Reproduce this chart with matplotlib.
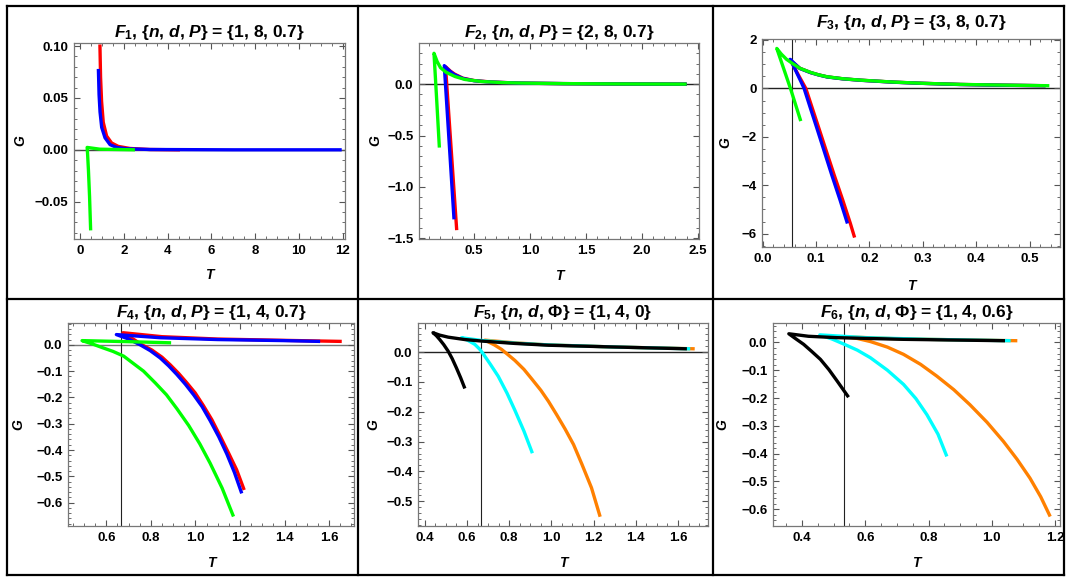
import matplotlib
matplotlib.use("Agg")
import matplotlib.pyplot as plt
from matplotlib.ticker import MultipleLocator, AutoMinorLocator, FuncFormatter

plt.rcParams['font.family'] = ['Liberation Sans', 'DejaVu Sans']
plt.rcParams['font.weight'] = 'bold'
plt.rcParams['mathtext.fontset'] = 'custom'
plt.rcParams['mathtext.it'] = 'Liberation Sans:italic:bold'
plt.rcParams['mathtext.rm'] = 'Liberation Sans:bold'
plt.rcParams['mathtext.bf'] = 'Liberation Sans:bold'

# ---- data (T, G) ----
# F1
f1_red_t = [0.913, 0.943, 0.989, 1.065, 1.218, 1.446, 1.75, 2.283, 3.196, 4.566]
f1_red_g = [0.1016, 0.070, 0.0467, 0.0266, 0.0133, 0.0066, 0.0033, 0.0013, 0.0003, 0.0]
f1_blue_t = [0.843, 0.874, 0.918, 0.994, 1.146, 1.374, 1.674, 2.13, 3.196, 7.0, 11.95]
f1_blue_g = [0.078, 0.0533, 0.0366, 0.0216, 0.0116, 0.005, 0.0023, 0.001, 0.0003, 0.0, 0.0]
f1_green_t = [0.49, 0.44, 0.39, 0.35, 0.33, 0.91, 2.51]
f1_green_g = [-0.0777, -0.045, -0.02, -0.004, 0.0023, 0.0006, 0.0]

# F2
f2_red_t = [0.345, 0.295, 0.245, 0.26, 0.29, 0.33, 0.4, 0.5, 0.65, 0.9, 1.3, 1.8, 2.4]
f2_red_g = [-1.42, -0.625, 0.17, 0.155, 0.125, 0.095, 0.058, 0.035, 0.021, 0.01, 0.005, 0.002, 0.0]
f2_blue_t = [0.321, 0.28, 0.234, 0.25, 0.28, 0.32, 0.4, 0.5, 0.65, 0.9, 1.3, 1.8, 2.4]
f2_blue_g = [-1.315, -0.61, 0.18, 0.16, 0.13, 0.095, 0.055, 0.033, 0.02, 0.01, 0.005, 0.002, 0.0]
f2_green_t = [0.19, 0.166, 0.142, 0.17, 0.2, 0.25, 0.33, 0.42, 0.569, 0.75, 0.927, 1.3, 1.8, 2.40]
f2_green_g = [-0.617, -0.153, 0.30, 0.22, 0.16, 0.115, 0.074, 0.045, 0.0256, 0.015, 0.01, 0.005, 0.002, 0.0]

# F3
f3_red_t = [0.1724, 0.1645, 0.15, 0.1345, 0.119, 0.1057, 0.0935, 0.081, 0.074, 0.067, 0.06, 0.054,
            0.07, 0.09, 0.105, 0.121, 0.15, 0.184, 0.215, 0.246, 0.3, 0.37, 0.45, 0.53]
f3_red_g = [-6.16, -5.58, -4.6, -3.6, -2.56, -1.66, -0.84, 0.0, 0.28, 0.56, 0.85, 1.12,
            0.83, 0.655, 0.56, 0.478, 0.398, 0.338, 0.298, 0.258, 0.21, 0.163, 0.133, 0.11]
f3_blue_t = [0.159, 0.145, 0.13, 0.115, 0.102, 0.09, 0.0778, 0.0715, 0.065, 0.058, 0.0516,
             0.07, 0.09, 0.105, 0.121, 0.15, 0.184, 0.215, 0.246, 0.3, 0.37, 0.45, 0.53]
f3_blue_g = [-5.58, -4.6, -3.6, -2.56, -1.66, -0.84, 0.0, 0.3, 0.6, 0.93, 1.20,
             0.82, 0.65, 0.555, 0.472, 0.395, 0.335, 0.295, 0.255, 0.208, 0.16, 0.13, 0.11]
f3_green_t = [0.0716, 0.053, 0.0267, 0.035, 0.045, 0.056, 0.07, 0.09, 0.105, 0.121, 0.15,
              0.184, 0.215, 0.246, 0.3, 0.37, 0.45, 0.537]
f3_green_g = [-1.35, -0.05, 1.65, 1.42, 1.2, 1.03, 0.83, 0.66, 0.56, 0.48, 0.40,
              0.34, 0.30, 0.26, 0.21, 0.165, 0.135, 0.11]

# F4
f4_red_t = [1.219, 1.185, 1.148, 1.11, 1.074, 1.035, 0.999, 0.96, 0.924, 0.887, 0.850, 0.805,
            0.76, 0.715, 0.675, 0.85, 1.1, 1.4, 1.657]
f4_red_g = [-0.552, -0.475, -0.41, -0.345, -0.285, -0.23, -0.183, -0.143, -0.108, -0.076, -0.047,
            -0.02, 0.0, 0.025, 0.046, 0.031, 0.022, 0.017, 0.013]
f4_blue_t = [1.208, 1.175, 1.141, 1.105, 1.066, 1.03, 0.992, 0.955, 0.917, 0.88, 0.842, 0.797,
             0.752, 0.70, 0.645, 0.842, 1.1, 1.4, 1.56]
f4_blue_g = [-0.565, -0.485, -0.415, -0.35, -0.288, -0.235, -0.19, -0.15, -0.113, -0.08, -0.050,
             -0.022, 0.0, 0.022, 0.039, 0.027, 0.020, 0.016, 0.013]
f4_green_t = [1.171, 1.12, 1.066, 1.02, 0.97, 0.917, 0.87, 0.82, 0.767, 0.72, 0.678, 0.63,
              0.58, 0.535, 0.491, 0.7, 0.891]
f4_green_g = [-0.653, -0.545, -0.45, -0.377, -0.307, -0.243, -0.19, -0.145, -0.100, -0.07, -0.043,
              -0.025, -0.01, 0.004, 0.016, 0.012, 0.0076]

# F5
f5_orange_t = [1.231, 1.19, 1.144, 1.105, 1.065, 1.025, 0.986, 0.95, 0.907, 0.87, 0.827, 0.80,
               0.764, 0.73, 0.685, 0.827, 0.986, 1.302, 1.679]
f5_orange_g = [-0.552, -0.455, -0.375, -0.31, -0.258, -0.21, -0.165, -0.128, -0.090, -0.058, -0.028,
               -0.012, 0.009, 0.024, 0.040, 0.031, 0.024, 0.017, 0.011]
f5_cyan_t = [0.910, 0.87, 0.827, 0.79, 0.748, 0.71, 0.677, 0.66, 0.637, 0.605, 0.574,
             0.669, 0.827, 0.986, 1.302, 1.658]
f5_cyan_g = [-0.339, -0.265, -0.195, -0.138, -0.081, -0.04, -0.006, 0.01, 0.026, 0.039, 0.048,
             0.039, 0.030, 0.024, 0.017, 0.011]
f5_black_t = [0.590, 0.57, 0.55, 0.53, 0.511, 0.49, 0.471, 0.455, 0.439, 0.47, 0.511, 0.59,
              0.669, 0.827, 0.986, 1.302, 1.642]
f5_black_g = [-0.122, -0.086, -0.053, -0.022, 0.003, 0.025, 0.042, 0.055, 0.065, 0.057, 0.050, 0.042,
              0.037, 0.029, 0.023, 0.017, 0.011]

# F6
f6_orange_t = [1.185, 1.155, 1.121, 1.08, 1.037, 0.985, 0.931, 0.88, 0.826, 0.775, 0.721, 0.67,
               0.616, 0.575, 0.537, 0.7, 0.9, 1.081]
f6_orange_g = [-0.626, -0.555, -0.488, -0.42, -0.356, -0.287, -0.224, -0.17, -0.121, -0.079, -0.043,
               -0.017, 0.003, 0.014, 0.02, 0.013, 0.009, 0.006]
f6_cyan_t = [0.858, 0.83, 0.795, 0.76, 0.721, 0.67, 0.616, 0.575, 0.534, 0.495, 0.456,
             0.6, 0.8, 1.06]
f6_cyan_g = [-0.41, -0.33, -0.26, -0.202, -0.151, -0.1, -0.055, -0.028, -0.007, 0.012, 0.027,
             0.017, 0.011, 0.006]
f6_black_t = [0.547, 0.511, 0.485, 0.458, 0.43, 0.405, 0.38, 0.358, 0.42, 0.511, 0.721, 1.042]
f6_black_g = [-0.197, -0.139, -0.098, -0.061, -0.032, -0.007, 0.013, 0.031, 0.022, 0.017, 0.011, 0.006]

titles = [r"$F_1$, {$n$, $d$, $P$} = {1, 8, 0.7}",
          r"$F_2$, {$n$, $d$, $P$} = {2, 8, 0.7}",
          r"$F_3$, {$n$, $d$, $P$} = {3, 8, 0.7}",
          r"$F_4$, {$n$, $d$, $P$} = {1, 4, 0.7}",
          r"$F_5$, {$n$, $d$, Φ} = {1, 4, 0}",
          r"$F_6$, {$n$, $d$, Φ} = {1, 4, 0.6}"]

RED, BLUE, GREEN = '#ff0000', '#0000ff', '#00ff00'
ORANGE, CYAN, BLACK = '#ff8000', '#00ffff', '#000000'

panels = [
    dict(curves=[(f1_red_t, f1_red_g, RED), (f1_blue_t, f1_blue_g, BLUE), (f1_green_t, f1_green_g, GREEN)],
         xlim=(-0.27, 12.1), ylim=(-0.086, 0.103), xstep=2, ystep=0.05, xdec=0, ydec=2,
         xminor=4, yminor=5, hline='#444444', vline=None,
         box=(74, 43, 345, 239), title_y=33, tlabel_y=275),
    dict(curves=[(f2_red_t, f2_red_g, RED), (f2_blue_t, f2_blue_g, BLUE), (f2_green_t, f2_green_g, GREEN)],
         xlim=(0.008, 2.51), ylim=(-1.506, 0.40), xstep=0.5, ystep=0.5, xdec=1, ydec=1,
         xminor=5, yminor=5, hline='#222222', vline=None,
         box=(419, 43, 699, 239), title_y=33, tlabel_y=276),
    dict(curves=[(f3_red_t, f3_red_g, RED), (f3_blue_t, f3_blue_g, BLUE), (f3_green_t, f3_green_g, GREEN)],
         xlim=(-0.001, 0.557), ylim=(-6.55, 2.04), xstep=0.1, ystep=2, xdec=1, ydec=0,
         xminor=5, yminor=4, hline='#222222', vline=0.056,
         box=(762, 39, 1060, 247), title_y=22, tlabel_y=286),
    dict(curves=[(f4_red_t, f4_red_g, RED), (f4_blue_t, f4_blue_g, BLUE), (f4_green_t, f4_green_g, GREEN)],
         xlim=(0.428, 1.712), ylim=(-0.689, 0.083), xstep=0.2, ystep=0.1, xdec=1, ydec=1,
         xminor=4, yminor=5, hline='#777777', vline=0.667,
         box=(68, 323, 354, 526), title_y=312, tlabel_y=563),
    dict(curves=[(f5_orange_t, f5_orange_g, ORANGE), (f5_cyan_t, f5_cyan_g, CYAN), (f5_black_t, f5_black_g, BLACK)],
         xlim=(0.368, 1.742), ylim=(-0.583, 0.0975), xstep=0.2, ystep=0.1, xdec=1, ydec=1,
         xminor=4, yminor=5, hline='#222222', vline=0.667,
         box=(418, 323, 708, 526), title_y=312, tlabel_y=563),
    dict(curves=[(f6_orange_t, f6_orange_g, ORANGE), (f6_cyan_t, f6_cyan_g, CYAN), (f6_black_t, f6_black_g, BLACK)],
         xlim=(0.308, 1.216), ylim=(-0.660, 0.0697), xstep=0.2, ystep=0.1, xdec=1, ydec=1,
         xminor=4, yminor=5, hline=None, vline=0.534,
         box=(773, 323, 1060, 526), title_y=312, tlabel_y=563),
]
glabel_x = [20, 375, 725, 18, 373, 722]

W, H = 1073, 583
fig = plt.figure(figsize=(W / 100, H / 100), dpi=100)


def fmt(dec):
    def f(v, pos):
        if abs(v) < 1e-9:
            v = 0.0
        return f"{v:.{dec}f}".replace('-', '\u2212')
    return FuncFormatter(f)


for i, p in enumerate(panels):
    l, t, r, b = p['box']
    ax = fig.add_axes([l / W, 1 - b / H, (r - l) / W, (b - t) / H])
    for tt, gg, c in p['curves']:
        ax.plot(tt, gg, color=c, lw=2.4, zorder=2, solid_capstyle='butt')
    if p['hline'] is not None:
        ax.axhline(0, color=p['hline'], lw=1.0, zorder=1)
    if p['vline'] is not None:
        ax.axvline(p['vline'], color='#222222', lw=0.8, zorder=1)
    ax.set_xlim(*p['xlim'])
    ax.set_ylim(*p['ylim'])
    ax.xaxis.set_major_locator(MultipleLocator(p['xstep']))
    ax.yaxis.set_major_locator(MultipleLocator(p['ystep']))
    ax.xaxis.set_minor_locator(AutoMinorLocator(p['xminor']))
    ax.yaxis.set_minor_locator(AutoMinorLocator(p['yminor']))
    ax.xaxis.set_major_formatter(fmt(p['xdec']))
    ax.yaxis.set_major_formatter(fmt(p['ydec']))
    ax.tick_params(which='both', direction='in', top=True, right=True,
                   color='#555555', labelsize=9.5, pad=4)
    ax.tick_params(which='major', length=4, width=0.8)
    ax.tick_params(which='minor', length=2, width=0.6)
    for lab in ax.get_xticklabels() + ax.get_yticklabels():
        lab.set_fontweight('bold')
    for s in ax.spines.values():
        s.set_color('#777777')
        s.set_linewidth(0.9)

    cx = (l + r) / 2 / W
    fig.text(cx, 1 - p['title_y'] / H, titles[i], ha='center', va='center',
             fontsize=12.5, fontweight='bold')
    fig.text(cx, 1 - p['tlabel_y'] / H, 'T', ha='center', va='center',
             fontsize=10, fontweight='bold', fontstyle='italic')
    fig.text(glabel_x[i] / W, 1 - ((t + b) / 2) / H, 'G', ha='center', va='center',
             rotation=90, fontsize=10, fontweight='bold', fontstyle='italic')

# grid frame round the six cells
def hline_px(x1, x2, y):
    fig.add_artist(plt.Line2D([x1 / W, x2 / W], [1 - y / H, 1 - y / H], color='k', lw=1.6))

def vline_px(x, y1, y2):
    fig.add_artist(plt.Line2D([x / W, x / W], [1 - y1 / H, 1 - y2 / H], color='k', lw=1.6))

hline_px(7, 1064, 6)
hline_px(7, 1064, 299)
hline_px(7, 1064, 575)
vline_px(7, 6, 575)
vline_px(357.5, 6, 575)
vline_px(712.5, 6, 575)
vline_px(1064, 6, 575)

fig.savefig('out.png', dpi=100)
